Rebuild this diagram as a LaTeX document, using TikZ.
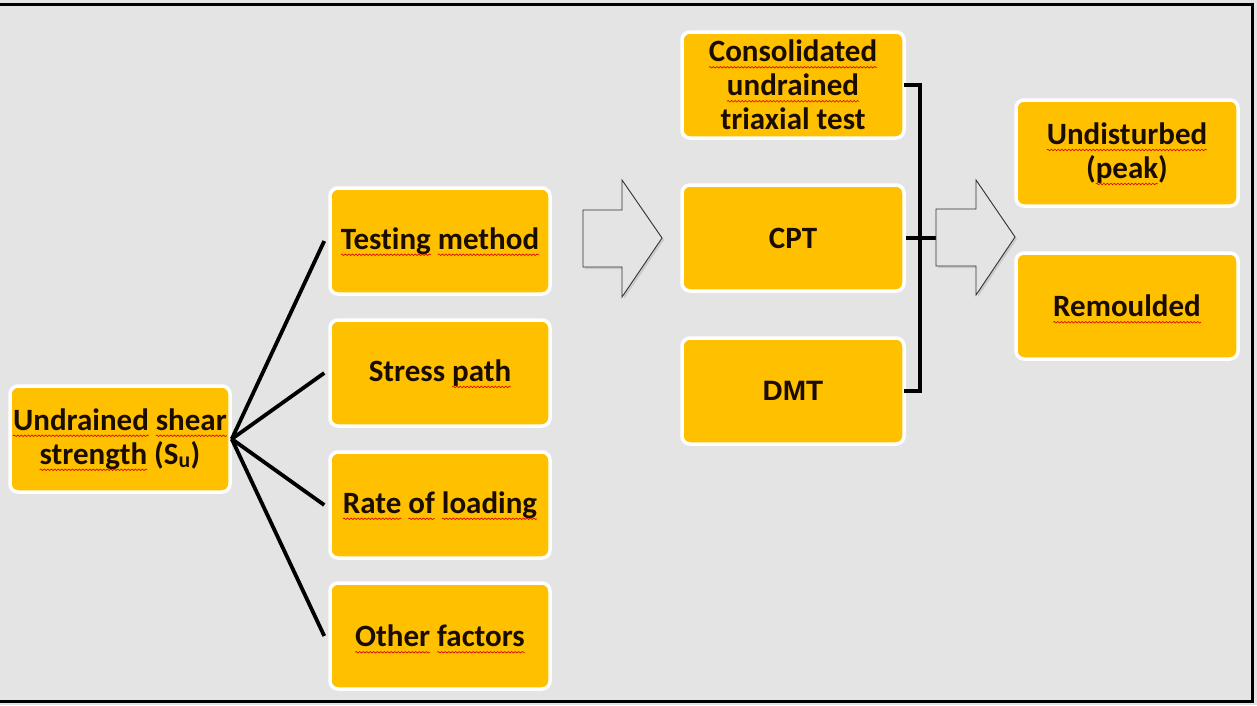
\documentclass[tikz,border=0pt]{standalone}
\usepackage{fontspec}
\setmainfont{Carlito}[Ligatures={NoCommon}]
\usetikzlibrary{shadows,decorations.pathmorphing}
\definecolor{bgc}{HTML}{E4E4E4}
\definecolor{boxc}{HTML}{FFC000}
\definecolor{txtc}{HTML}{1A0D00}
\newcommand\sq[1]{\begingroup\setbox0\hbox{#1}\rlap{\copy0}\tikz[x=1cm,y=1cm,baseline=0pt,sharp corners]{\draw[overlay, sharp corners, fill=none, draw=red!85!black, line width=0.6pt, decorate, decoration={snake, amplitude=0.8pt, segment length=3.5pt}] (0pt,-5.5pt) -- (\wd0,-5.5pt); \path (0pt,0pt) -- (\wd0,0pt);}\endgroup}
\tikzset{
  box/.style={draw=white, line width=3.5pt, fill=boxc, rounded corners=8pt,
    minimum width=220, minimum height=106, align=center, text=txtc,
    font=\bfseries\fontsize{31}{34}\selectfont, inner sep=2pt},
  conn/.style={draw=black, line width=3.8pt},
  blockarrow/.style={draw=black!80, line width=0.9pt, fill=bgc, line join=miter,
    drop shadow={shadow xshift=2pt, shadow yshift=-2pt, opacity=0.25}},
}
\begin{document}
\begin{tikzpicture}[x=1pt, y=-1pt]
\useasboundingbox (0,0) rectangle (1257,705);
\fill[bgc] (0,0) rectangle (1257,705);
\draw[line width=3pt] (0,4.5) -- (1252,4.5) -- (1252,701) -- (0,701);

% left column
\node[box] (su) at (120,439) {\sq{Undrained} \sq{shear}\\\sq{strength} (S\textsubscript{u})};

% factors
\node[box] (tm) at (440,241) {\sq{Testing} \sq{method}};
\node[box] (sp) at (440,373) {Stress \sq{path}};
\node[box] (rl) at (440,505) {\sq{Rate} \sq{of} \sq{loading}};
\node[box] (of) at (440,636) {\sq{Other} \sq{factors}};

% methods
\node[box, minimum width=222] (cu) at (793,85) {\sq{Consolidated}\\\sq{undrained}\\triaxial test};
\node[box, minimum width=222] (cpt) at (793,238) {CPT};
\node[box, minimum width=222, font=\bfseries\fontspec{Liberation Sans}\fontsize{28}{34}\selectfont] (dmt) at (793,391) {DMT};

% results
\node[box, minimum width=222] (ud) at (1127,153) {\sq{Undisturbed}\\(\sq{peak})};
\node[box, minimum width=222] (rm) at (1127,306) {\sq{Remoulded}};

% fan connectors
\draw[conn] (su.east) -- ([xshift=-4pt]tm.west);
\draw[conn] (su.east) -- ([xshift=-4pt]sp.west);
\draw[conn] (su.east) -- ([xshift=-4pt]rl.west);
\draw[conn] (su.east) -- ([xshift=-4pt]of.west);

% block arrows
\path[blockarrow] (583,210) -- (622,210) -- (622,180) -- (662,238) -- (622,297) -- (622,267) -- (583,267) -- cycle;
\coordinate (bx) at (920,238);
\coordinate (a2) at (936,238);
\draw[conn, line width=3.2pt, line cap=rect] (cu.east) -- (cu.east -| bx) -- (dmt.east -| bx) -- (dmt.east);
\draw[conn, line width=3.2pt] (cpt.east) -- (a2);
\path[blockarrow] (936,209) -- (976,209) -- (976,180) -- (1015,237) -- (976,295) -- (976,266) -- (936,266) -- cycle;
\end{tikzpicture}
\end{document}
